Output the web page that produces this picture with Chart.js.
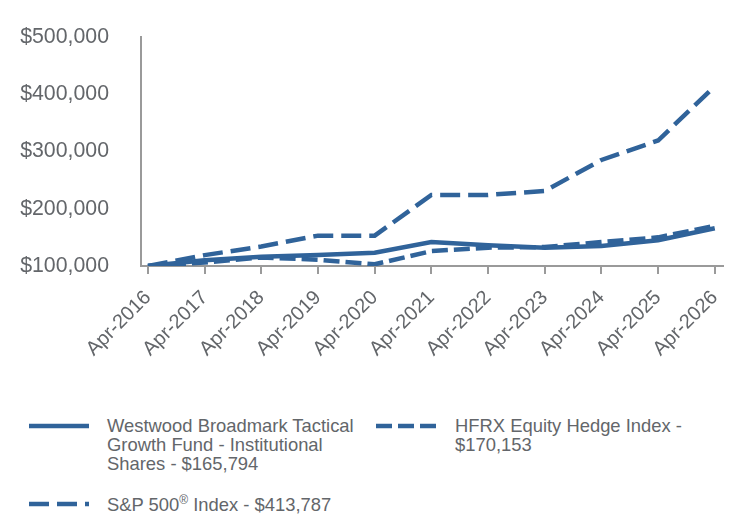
<!DOCTYPE html>
<html>
<head>
<meta charset="utf-8">
<script src="https://cdn.jsdelivr.net/npm/chart.js@4"></script>
<style>
  body { margin: 0; background: #fff; font-family: "Liberation Sans", Arial, sans-serif; }
  #wrap { position: relative; width: 744px; height: 516px; }
  #chartBox { position: absolute; left: 0; top: 0; width: 744px; height: 395px; }
  .leg { position: absolute; color: #63666a; font-size: 18.4px; line-height: 19px; }
  .leg canvas { position: absolute; left: 0; top: 5.5px; }
  .leg span { position: absolute; top: 0; white-space: nowrap; }
  sup { font-size: 12px; line-height: 0; vertical-align: 7px; }
</style>
</head>
<body>
<div id="wrap">
  <div id="chartBox"><canvas id="growthChart"></canvas></div>
  <div id="legendBox"></div>
</div>
<script>
  // Data
  const yearLabels = ["Apr-2016", "Apr-2017", "Apr-2018", "Apr-2019", "Apr-2020", "Apr-2021",
    "Apr-2022", "Apr-2023", "Apr-2024", "Apr-2025", "Apr-2026"];
  const fundValues = [100000, 110000, 116000, 119000, 123000, 142000, 136000, 132000, 135000, 145000, 165794];
  const hfrxValues = [100000, 106000, 115000, 111000, 103000, 126000, 132000, 133000, 142000, 150000, 170153];
  const spValues = [100000, 119000, 134000, 153000, 153000, 224000, 224000, 231000, 285000, 319000, 413787];
  const yTicks = [100000, 200000, 300000, 400000, 500000];

  const lineColor = "#30639a";
  const textColor = "#63666a";
  const axisColor = "#9a9a9a";

  const toPoints = (vals) => vals.map((v, i) => ({ x: i, y: v }));

  const seriesList = [
    { label: "Westwood Broadmark Tactical<br>Growth Fund - Institutional<br>Shares - $165,794", data: fundValues, dash: [] },
    { label: "HFRX Equity Hedge Index -<br>$170,153", data: hfrxValues, dash: [16, 6] },
    { label: "S&amp;P 500<sup>®</sup> Index - $413,787", data: spValues, dash: [20, 8] },
  ];

  const ctx = document.getElementById("growthChart").getContext("2d");
  const growthChart = new Chart(ctx, {
    type: "line",
    data: {
      datasets: seriesList.map((s) => ({
        data: toPoints(s.data),
        borderColor: lineColor,
        borderWidth: 4.5,
        borderDash: s.dash,
        pointRadius: 0,
        tension: 0,
        fill: false,
      })),
    },
    options: {
      responsive: true,
      maintainAspectRatio: false,
      animation: false,
      layout: { padding: { top: 32, right: 20, left: 0, bottom: 0 } },
      plugins: {
        legend: { display: false },
        tooltip: { enabled: false },
      },
      scales: {
        x: {
          type: "linear",
          min: -0.123,
          max: 10.14,
          afterBuildTicks: (axis) => {
            axis.ticks = yearLabels.map((_, i) => ({ value: i }));
          },
          afterFit: (axis) => {
            axis.height = 129; // axis line sits at y = 266
          },
          border: { display: true, color: axisColor, width: 2 },
          grid: { display: true, drawOnChartArea: false, drawTicks: true, tickLength: 8, color: axisColor, lineWidth: 2 },
          ticks: {
            color: textColor,
            font: { family: "Liberation Sans", size: 20 },
            minRotation: 45,
            maxRotation: 45,
            autoSkip: false,
            padding: 12,
            callback: (v) => yearLabels[v],
          },
        },
        y: {
          min: 100000,
          max: 500000,
          afterBuildTicks: (axis) => {
            axis.ticks = yTicks.map((v) => ({ value: v }));
          },
          afterFit: (axis) => {
            axis.width = 141;
          },
          border: { display: true, color: axisColor, width: 2 },
          grid: { display: false },
          ticks: {
            color: textColor,
            font: { family: "Liberation Sans", size: 21.3 },
            padding: 24,
            callback: (v) => "$" + v.toLocaleString("en-US"),
          },
        },
      },
    },
  });

  // HTML legend, laid out like the reference
  const legendPos = [
    { left: 29, top: 416, textLeft: 78 },
    { left: 376, top: 416, textLeft: 79 },
    { left: 29, top: 494.5, textLeft: 78 },
  ];
  const $legend = document.getElementById("legendBox");
  seriesList.forEach((s, i) => {
    const p = legendPos[i];
    const item = document.createElement("div");
    item.className = "leg";
    item.style.left = p.left + "px";
    item.style.top = p.top + "px";
    const c = document.createElement("canvas");
    c.width = 60;
    c.height = 8;
    const g = c.getContext("2d");
    g.strokeStyle = lineColor;
    g.lineWidth = 4.5;
    g.setLineDash(s.dash);
    g.beginPath();
    g.moveTo(0, 4);
    g.lineTo(60, 4);
    g.stroke();
    item.appendChild(c);
    const t = document.createElement("span");
    t.style.left = p.textLeft + "px";
    t.innerHTML = s.label;
    item.appendChild(t);
    $legend.appendChild(item);
  });
</script>
</body>
</html>
